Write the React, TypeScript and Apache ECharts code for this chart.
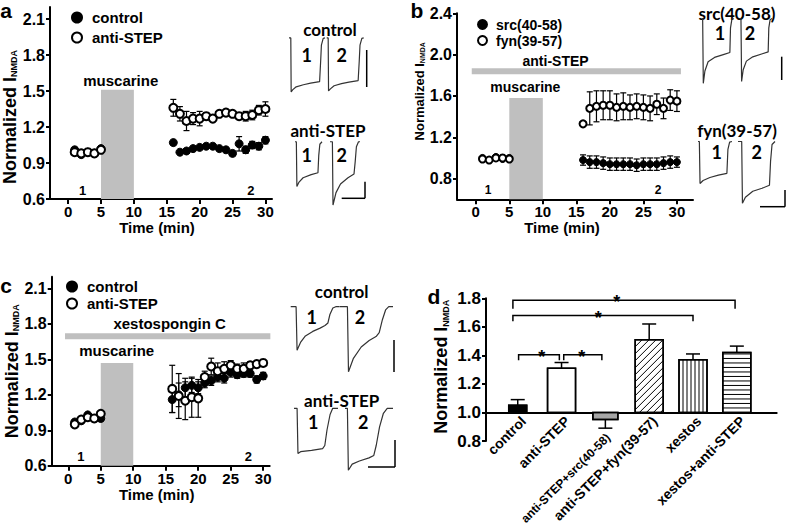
import React, { useEffect, useRef } from "react";
import * as echarts from "echarts";

const FONT = "'Liberation Sans', Arial, sans-serif";
const TFONT = "Lato, 'Open Sans', sans-serif";

// ---------- shared time axes ----------
const preTimes = [1, 2, 3, 4, 5];
const postTimes = [16, 17, 18, 19, 20, 21, 22, 23, 24, 25, 26, 27, 28, 29, 30];
const timeTicks = [0, 5, 10, 15, 20, 25, 30];

// ---------- panel a ----------
const aControlPre = [1.01, 0.97, 0.99, 0.98, 1.02];
const aControlPreErr = [0.02, 0.01, 0.01, 0.01, 0.01];
const aAntiPre = [0.99, 0.98, 0.99, 0.98, 1.01];
const aAntiPreErr = [0.01, 0.01, 0.01, 0.01, 0.01];
const aControlPost = [1.07, 0.99, 1.0, 1.02, 1.03, 1.04, 1.04, 1.02, 1.01, 0.98, 1.06, 1.01, 1.05, 1.04, 1.09];
const aControlPostErr = [0.02, 0.01, 0.01, 0.01, 0.01, 0.01, 0.01, 0.01, 0.01, 0.02, 0.06, 0.03, 0.03, 0.03, 0.03];
const aAntiPost = [1.36, 1.31, 1.25, 1.27, 1.27, 1.29, 1.27, 1.31, 1.32, 1.31, 1.29, 1.29, 1.3, 1.34, 1.35];
const aAntiPostErr = [0.07, 0.06, 0.08, 0.05, 0.06, 0.03, 0.02, 0.02, 0.02, 0.02, 0.02, 0.04, 0.04, 0.04, 0.06];
const aYTicks = [0.6, 0.9, 1.2, 1.5, 1.8, 2.1];

// ---------- panel b ----------
const bSrcPre = [1.0, 0.98, 1.01, 0.99, 1.0];
const bFynPre = [0.99, 0.98, 1.0, 1.0, 0.99];
const bPreErr = [0.01, 0.01, 0.01, 0.01, 0.01];
const bSrcPost = [0.98, 0.96, 0.96, 0.95, 0.94, 0.94, 0.94, 0.94, 0.93, 0.94, 0.94, 0.94, 0.95, 0.96, 0.96];
const bSrcPostErr = [0.05, 0.06, 0.06, 0.06, 0.06, 0.06, 0.06, 0.06, 0.06, 0.06, 0.06, 0.06, 0.06, 0.06, 0.05];
const bFynPost = [1.33, 1.48, 1.5, 1.51, 1.51, 1.49, 1.5, 1.49, 1.5, 1.49, 1.48, 1.52, 1.48, 1.56, 1.55];
const bFynPostErr = [0.02, 0.16, 0.15, 0.14, 0.14, 0.13, 0.13, 0.12, 0.12, 0.12, 0.12, 0.1, 0.1, 0.1, 0.1];
const bYTicks = [0.8, 1.2, 1.6, 2.0, 2.4];

// ---------- panel c ----------
const cControlPre = [0.97, 0.98, 1.03, 1.0, 1.0];
const cAntiPre = [0.95, 0.99, 1.01, 1.0, 1.04];
const cPreErr = [0.02, 0.02, 0.01, 0.02, 0.02];
const cControlPost = [1.16, 1.2, 1.26, 1.28, 1.26, 1.3, 1.32, 1.35, 1.34, 1.39, 1.37, 1.38, 1.38, 1.33, 1.36];
const cControlPostErr = [0.11, 0.1, 0.08, 0.06, 0.05, 0.04, 0.04, 0.04, 0.04, 0.04, 0.03, 0.03, 0.03, 0.03, 0.03];
const cAntiPost = [1.25, 1.19, 1.15, 1.18, 1.17, 1.35, 1.44, 1.4, 1.42, 1.45, 1.42, 1.42, 1.45, 1.46, 1.47];
const cAntiPostErr = [0.2, 0.19, 0.16, 0.17, 0.16, 0.05, 0.07, 0.07, 0.06, 0.04, 0.04, 0.05, 0.03, 0.02, 0.02];
const cYTicks = [0.6, 0.9, 1.2, 1.5, 1.8, 2.1];

// ---------- panel d ----------
const dCategories = ["control", "anti-STEP", "anti-STEP+src(40-58)", "anti-STEP+fyn(39-57)", "xestos", "xestos+anti-STEP"];
const dMeans = [1.05, 1.31, 0.95, 1.51, 1.37, 1.42];
const dErrs = [0.04, 0.04, 0.06, 0.11, 0.04, 0.045];
const dYTicks = [0.8, 1.0, 1.2, 1.4, 1.6, 1.8];
// brackets: [from, to, level, drop]
const dBrackets = [
  [-0.11, 4.96, 1.786, 1.726],
  [-0.11, 4.0, 1.679, 1.64],
  [0.02, 0.95, 1.405, 1.365],
  [1.05, 1.92, 1.405, 1.365],
];
const dStarX = [2.26, 1.84, 0.55, 1.46];

// ---------- annotations (data coords) ----------
const drugBarsA = [[5, 10, 1.51]];
const drugBarsB = [[5, 10, 1.58]];
const drugBarsC = [[5, 10, 1.47]];
const lineBarB = [[-0.6, 30.6, 1.84]];
const lineBarC = [[-0.5, 31.1, 1.696]];
const annotA = { x: [8, 2.2, 27.8], y: [1.59, 0.675, 0.675], t: ["muscarine", "1", "2"] };
const annotB = { x: [7.4, 11.9, 1.85, 27.2], y: [1.684, 1.935, 0.687, 0.687], t: ["muscarine", "anti-STEP", "1", "2"] };
const annotC = { x: [15.6, 7.45, 1.95, 27.7], y: [1.8, 1.572, 0.676, 0.676], t: ["xestospongin C", "muscarine", "1", "2"] };

// ---------- example traces (normalized current vs normalized time) ----------
const traceACtrl1 = [[0, 0.04], [0.05, 0.04], [0.06, -1], [0.1, -0.96], [0.2, -0.9], [0.4, -0.86], [0.6, -0.83], [0.85, -0.8], [0.88, -0.4], [0.9, -0.1], [0.95, 0.03], [1, 0.04]];
const traceACtrl2 = [[0, 0.04], [0.04, 0.04], [0.05, -0.98], [0.1, -0.94], [0.2, -0.88], [0.4, -0.84], [0.6, -0.81], [0.85, -0.78], [0.88, -0.4], [0.9, -0.1], [0.95, 0.03], [1, 0.04]];
const traceAAnti1 = [[0, 0.02], [0.05, 0.02], [0.07, -0.7], [0.15, -0.63], [0.3, -0.56], [0.6, -0.51], [0.85, -0.48], [0.88, -0.2], [0.92, -0.02], [1, 0.02]];
const traceAAnti2 = [[0, 0.02], [0.08, 0.02], [0.1, -1], [0.2, -0.8], [0.35, -0.66], [0.6, -0.56], [0.8, -0.5], [0.84, -0.3], [0.88, -0.06], [0.95, 0.02], [1, 0.02]];
const traceBSrc1 = [[0, 0.05], [0.03, 0.05], [0.05, -1], [0.1, -0.8], [0.2, -0.65], [0.4, -0.58], [0.7, -0.53], [0.88, -0.5], [0.9, -0.1], [0.94, 0.03], [1, 0.05]];
const traceBSrc2 = [[0, 0.05], [0.03, 0.05], [0.05, -0.97], [0.1, -0.78], [0.2, -0.64], [0.4, -0.57], [0.7, -0.52], [0.88, -0.49], [0.9, -0.1], [0.94, 0.03], [1, 0.05]];
const traceBFyn1 = [[0, 0.03], [0.04, 0.03], [0.06, -0.67], [0.15, -0.62], [0.35, -0.57], [0.6, -0.53], [0.85, -0.5], [0.88, -0.1], [0.93, 0.02], [1, 0.03]];
const traceBFyn2 = [[0, 0.03], [0.1, 0.03], [0.12, -1], [0.2, -0.9], [0.4, -0.8], [0.65, -0.75], [0.85, -0.7], [0.88, -0.3], [0.92, -0.02], [1, 0.03]];
const traceCCtrl1 = [[0, 0], [0.11, 0], [0.13, -0.67], [0.2, -0.55], [0.3, -0.45], [0.45, -0.38], [0.6, -0.33], [0.7, -0.29], [0.76, -0.25], [0.8, -0.12], [0.86, -0.02], [0.92, 0], [1, 0]];
const traceCCtrl2 = [[0, 0], [0.14, 0], [0.16, -1], [0.25, -0.8], [0.4, -0.62], [0.55, -0.52], [0.68, -0.46], [0.74, -0.4], [0.8, -0.2], [0.86, -0.05], [0.92, 0], [1, 0]];
const traceCAnti1 = [[0, 0], [0.07, 0], [0.09, -0.73], [0.15, -0.7], [0.4, -0.68], [0.65, -0.65], [0.7, -0.6], [0.75, -0.35], [0.82, -0.1], [0.88, 0], [1, 0]];
const traceCAnti2 = [[0, 0], [0.05, 0], [0.07, -1], [0.15, -0.9], [0.3, -0.85], [0.5, -0.8], [0.6, -0.76], [0.65, -0.6], [0.72, -0.3], [0.8, -0.08], [0.88, 0], [1, 0]];

// ---------- helpers ----------
const black = "#000";
const lblStyle = (size: number) => ({ fontSize: size, fontWeight: "bold", fontFamily: FONT, color: black });
const bold = (size: number, fam = FONT) => `bold ${size}px ${fam}`;

function timeX(gridIndex: number, min: number, max: number, nameGap: number, namePad: number[]) {
  return {
    type: "value", gridIndex, min, max,
    axisLine: { show: true, onZero: false, lineStyle: { color: black, width: 2 } },
    axisTick: { show: true, customValues: timeTicks, length: 5, lineStyle: { color: black, width: 2 } },
    axisLabel: { customValues: timeTicks, margin: 5, ...lblStyle(15) },
    splitLine: { show: false },
    name: "Time (min)", nameLocation: "middle", nameGap,
    nameTextStyle: { ...lblStyle(15), padding: namePad },
  };
}

function normY(gridIndex: number, min: number, max: number, ticks: number[], nameGap: number, namePad: number[], nameSize: number, labelSize: number) {
  return {
    type: "value", gridIndex, min, max,
    axisLine: { show: true, onZero: false, lineStyle: { color: black, width: 2 } },
    axisTick: { show: true, customValues: ticks, length: 4, lineStyle: { color: black, width: 2 } },
    axisLabel: { customValues: ticks, margin: 5, formatter: (v: number) => v.toFixed(1), ...lblStyle(labelSize) },
    splitLine: { show: false },
    name: "{m|Normalized I}{s|NMDA}", nameLocation: "middle", nameGap, nameRotate: 90,
    nameTextStyle: {
      padding: namePad,
      rich: {
        m: { fontSize: nameSize, fontWeight: "bold", fontFamily: FONT, color: black },
        s: { fontSize: Math.round(nameSize * 0.5), fontWeight: "bold", fontFamily: FONT, color: black, verticalAlign: "bottom" },
      },
    },
  };
}

function dots(name: string, grid: number, xs: number[], ys: number[], filled: boolean, size: number) {
  return {
    type: "scatter", name, xAxisIndex: grid, yAxisIndex: grid, symbol: "circle", symbolSize: size, z: 4, silent: true,
    data: xs.map((x, i) => [x, ys[i]]),
    itemStyle: filled ? { color: black, borderColor: black, borderWidth: 1, opacity: 1 } : { color: "#fff", borderColor: black, borderWidth: 2, opacity: 1 },
  };
}

function errs(grid: number, xs: number[], ys: number[], es: number[], cap: number) {
  return {
    type: "custom", xAxisIndex: grid, yAxisIndex: grid, z: 3, silent: true,
    data: xs.map((x, i) => [x, ys[i] - es[i], ys[i] + es[i]]),
    encode: { x: 0, y: [1, 2] },
    renderItem: (p: any, api: any) => {
      const lo = api.coord([api.value(0), api.value(1)]);
      const hi = api.coord([api.value(0), api.value(2)]);
      const st = { stroke: black, lineWidth: 1.2 };
      return {
        type: "group",
        children: [
          { type: "line", shape: { x1: lo[0], y1: lo[1], x2: hi[0], y2: hi[1] }, style: st },
          { type: "line", shape: { x1: lo[0] - cap, y1: lo[1], x2: lo[0] + cap, y2: lo[1] }, style: st },
          { type: "line", shape: { x1: hi[0] - cap, y1: hi[1], x2: hi[0] + cap, y2: hi[1] }, style: st },
        ],
      };
    },
  };
}

function blocks(grid: number, bars: number[][], base: number) {
  return {
    type: "custom", xAxisIndex: grid, yAxisIndex: grid, z: 1, silent: true,
    data: bars,
    renderItem: (p: any, api: any) => {
      const a = api.coord([api.value(0), base]);
      const b = api.coord([api.value(1), api.value(2)]);
      return { type: "rect", shape: { x: a[0], y: b[1], width: b[0] - a[0], height: a[1] - b[1] }, style: { fill: "#bfbfbf" } };
    },
  };
}

function hbar(grid: number, bars: number[][], thick: number) {
  return {
    type: "custom", xAxisIndex: grid, yAxisIndex: grid, z: 1, silent: true,
    data: bars,
    renderItem: (p: any, api: any) => {
      const a = api.coord([api.value(0), api.value(2)]);
      const b = api.coord([api.value(1), api.value(2)]);
      return { type: "rect", shape: { x: a[0], y: a[1] - thick / 2, width: b[0] - a[0], height: thick }, style: { fill: "#bfbfbf" } };
    },
  };
}

function texts(grid: number, an: { x: number[]; y: number[]; t: string[] }, sizes: number[]) {
  return {
    type: "custom", xAxisIndex: grid, yAxisIndex: grid, z: 5, silent: true,
    data: an.x.map((x, i) => [x, an.y[i]]),
    renderItem: (p: any, api: any) => {
      const c = api.coord([api.value(0), api.value(1)]);
      return {
        type: "text", x: c[0], y: c[1],
        style: { text: an.t[p.dataIndex], fill: black, font: bold(sizes[p.dataIndex]), align: "center", verticalAlign: "middle" },
      };
    },
  };
}

function hatchLines(kind: string, x0: number, y0: number, x1: number, y1: number) {
  const out: any[] = [];
  const st = { stroke: black, lineWidth: 1 };
  if (kind === "diag") {
    const s = 7;
    for (let c = x0 + y0 + s; c < x1 + y1; c += s) {
      const sx = Math.max(x0, c - y1);
      const ex = Math.min(x1, c - y0);
      if (ex > sx) out.push({ type: "line", shape: { x1: sx, y1: c - sx, x2: ex, y2: c - ex }, style: st });
    }
  } else if (kind === "vert") {
    for (let x = x0 + 4; x < x1 - 1; x += 4) out.push({ type: "line", shape: { x1: x, y1: y0, x2: x, y2: y1 }, style: st });
  } else if (kind === "horiz") {
    for (let y = y1 - 4.5; y > y0 + 1; y -= 4.5) out.push({ type: "line", shape: { x1: x0, y1: y, x2: x1, y2: y }, style: st });
  }
  return out;
}

const dBarPx = [18, 28, 25, 28, 28, 28];
const dFill = ["#000", "#fff", "#a6a6a6", "#fff", "#fff", "#fff"];
const dHatch = ["", "", "", "diag", "vert", "horiz"];
const dLabelShift = 0.13;

export default function App() {
  const ref = useRef<HTMLDivElement>(null);
  useEffect(() => {
    const chart = echarts.init(ref.current!, null, { renderer: "svg" });
    const allT = preTimes.concat(postTimes);

    const traceRects = [
      [289, 40, 36, 52], [326.7, 40, 37, 52],
      [295, 143, 27, 62], [330, 143, 30, 62],
      [701.7, 21.7, 32, 61.6], [740, 21.7, 32, 61.6],
      [698, 143.3, 34, 60], [738, 143.3, 37, 60],
      [290.7, 306.7, 49, 65], [340, 306.7, 53, 65],
      [294, 408.3, 44, 62], [345, 408.3, 48, 62],
    ];
    const traces = [traceACtrl1, traceACtrl2, traceAAnti1, traceAAnti2, traceBSrc1, traceBSrc2, traceBFyn1, traceBFyn2, traceCCtrl1, traceCCtrl2, traceCAnti1, traceCAnti2];

    const gb = { outerBoundsMode: "none", containLabel: false };
    const grids: any[] = [
      { ...gb, left: 50, top: 7, width: 222, height: 192 },
      { ...gb, left: 457, top: 13.3, width: 236, height: 186 },
      { ...gb, left: 51.7, top: 276.7, width: 218, height: 189 },
      { ...gb, left: 486, top: 298.3, width: 290.7, height: 142.7 },
      ...traceRects.map((r) => ({ ...gb, left: r[0], top: r[1], width: r[2], height: r[3] })),
    ];

    const xAxes: any[] = [
      timeX(0, -2.75, 31, 21, [0, 8, 0, 0]),
      timeX(1, -2.8, 32.4, 19, [0, 26, 0, 0]),
      timeX(2, -2.55, 31, 21, [0, 8, 0, 0]),
      {
        type: "value", gridIndex: 3, min: -0.724, max: 5.91, offset: -28.3,
        axisLine: { show: true, onZero: false, lineStyle: { color: black, width: 2 } },
        axisTick: { show: false },
        axisLabel: {
          customValues: dCategories.map((_, i) => i + dLabelShift),
          formatter: (v: number) => {
            const i = Math.round(v);
            return i === 2 ? `{dn|${dCategories[i]}}` : `{n|${dCategories[i]}}`;
          },
          rotate: 45, margin: 6, ...lblStyle(14),
          rich: {
            n: { ...lblStyle(14), padding: [0, 0, 0, 0] },
            dn: { ...lblStyle(12), padding: [20, 14, 0, 0] },
          },
        },
        splitLine: { show: false },
      },
      ...traceRects.map((_, i) => ({ type: "value", gridIndex: 4 + i, min: 0, max: 1, show: false })),
    ];
    const yAxes: any[] = [
      normY(0, 0.6, 2.2, aYTicks, 25, [0, 28, 0, 0], 18, 16),
      normY(1, 0.6, 2.4, bYTicks, 28, [0, 0, 0, 30], 13, 16),
      normY(2, 0.6, 2.2, cYTicks, 27, [0, 0, 0, 0], 18, 16),
      normY(3, 0.8, 1.8, dYTicks, 36, [0, 0, 0, 6], 18, 17),
      ...traceRects.map((_, i) => ({ type: "value", gridIndex: 4 + i, min: -1, max: 0, show: false })),
    ];

    const series: any[] = [
      // panel a
      blocks(0, drugBarsA, 0.6),
      errs(0, allT, aControlPre.concat(aControlPost), aControlPreErr.concat(aControlPostErr), 3),
      errs(0, allT, aAntiPre.concat(aAntiPost), aAntiPreErr.concat(aAntiPostErr), 3),
      dots("control", 0, allT, aControlPre.concat(aControlPost), true, 8),
      dots("anti-STEP", 0, allT, aAntiPre.concat(aAntiPost), false, 8),
      texts(0, annotA, [15, 13, 13]),
      // panel b
      blocks(1, drugBarsB, 0.6),
      hbar(1, lineBarB, 6),
      errs(1, allT, bSrcPre.concat(bSrcPost), bPreErr.concat(bSrcPostErr), 3),
      errs(1, allT, bFynPre.concat(bFynPost), bPreErr.concat(bFynPostErr), 3),
      dots("src(40-58)", 1, allT, bSrcPre.concat(bSrcPost), true, 7),
      dots("fyn(39-57)", 1, allT, bFynPre.concat(bFynPost), false, 7),
      texts(1, annotB, [14, 14, 12, 12]),
      // panel c
      blocks(2, drugBarsC, 0.6),
      hbar(2, lineBarC, 6),
      errs(2, allT, cControlPre.concat(cControlPost), cPreErr.concat(cControlPostErr), 3),
      errs(2, allT, cAntiPre.concat(cAntiPost), cPreErr.concat(cAntiPostErr), 3),
      dots("control", 2, allT, cControlPre.concat(cControlPost), true, 8),
      dots("anti-STEP", 2, allT, cAntiPre.concat(cAntiPost), false, 8),
      texts(2, annotC, [15, 15, 13, 13]),
      // panel d bars
      {
        type: "custom", xAxisIndex: 3, yAxisIndex: 3, z: 3, silent: true,
        data: dMeans.map((m, i) => [i, m, dErrs[i]]),
        renderItem: (p: any, api: any) => {
          const i = p.dataIndex;
          const x = api.value(0), m = api.value(1), e = api.value(2);
          const base = api.coord([x, 1.0]);
          const top = api.coord([x, m]);
          const w = dBarPx[i];
          const x0 = base[0] - w / 2, x1 = base[0] + w / 2;
          const y0 = Math.min(base[1], top[1]), y1 = Math.max(base[1], top[1]);
          const tip = api.coord([x, m >= 1 ? m + e : m - e]);
          const cap = 7;
          const st = { stroke: black, lineWidth: 1.5 };
          return {
            type: "group",
            children: [
              { type: "line", shape: { x1: base[0], y1: top[1], x2: base[0], y2: tip[1] }, style: st },
              { type: "line", shape: { x1: base[0] - cap, y1: tip[1], x2: base[0] + cap, y2: tip[1] }, style: st },
              { type: "rect", shape: { x: x0, y: y0, width: w, height: y1 - y0 }, style: { fill: dFill[i], stroke: black, lineWidth: 1.5 } },
              ...hatchLines(dHatch[i], x0, y0, x1, y1),
              { type: "rect", shape: { x: x0, y: y0, width: w, height: y1 - y0 }, style: { fill: "none", stroke: black, lineWidth: 1.5 } },
            ],
          };
        },
      },
      // panel d significance brackets
      {
        type: "custom", xAxisIndex: 3, yAxisIndex: 3, z: 3, silent: true,
        data: dBrackets.map((b, i) => [b[0], b[1], b[2], b[3], dStarX[i]]),
        renderItem: (p: any, api: any) => {
          const l = api.coord([api.value(0), api.value(2)]);
          const r = api.coord([api.value(1), api.value(2)]);
          const d = api.coord([api.value(0), api.value(3)]);
          const s = api.coord([api.value(4), api.value(2)]);
          return {
            type: "group",
            children: [
              { type: "polyline", shape: { points: [[l[0], d[1]], [l[0], l[1]], [r[0], r[1]], [r[0], d[1]]] }, style: { stroke: black, lineWidth: 1.5, fill: "none" } },
              { type: "text", x: s[0], y: l[1] + 2, style: { text: "*", fill: black, font: bold(18), align: "center", verticalAlign: "middle" } },
            ],
          };
        },
      },
      // traces
      ...traces.map((t, i) => ({
        type: "line", xAxisIndex: 4 + i, yAxisIndex: 4 + i, data: t, showSymbol: false, symbol: "none", clip: false, silent: true,
        lineStyle: { color: "#333", width: 1.2 }, z: 2,
      })),
    ];

    const tTitle = (x: number, y: number, text: string, size = 17) => ({
      type: "text", x, y, style: { text, fill: black, font: bold(size, TFONT), align: "center", verticalAlign: "middle" },
    });
    const pLabel = (x: number, y: number, text: string) => ({
      type: "text", x, y, style: { text, fill: black, font: bold(21), align: "center", verticalAlign: "middle" },
    });
    const ln = (x1: number, y1: number, x2: number, y2: number) => ({
      type: "line", shape: { x1, y1, x2, y2 }, style: { stroke: black, lineWidth: 1.5 },
    });

    const graphic: any[] = [
      pLabel(6, 10, "a"), pLabel(417, 10, "b"), pLabel(6, 285, "c"), pLabel(434, 296, "d"),
      tTitle(330, 29, "control"), tTitle(306.7, 55, "1", 18), tTitle(341.7, 55, "2", 18),
      tTitle(328, 130, "anti-STEP"), tTitle(306.7, 155, "1", 18), tTitle(341.7, 155, "2", 18),
      tTitle(737, 13, "src(40-58)"), tTitle(720, 33, "1", 18), tTitle(750, 33, "2", 18),
      tTitle(737, 130, "fyn(39-57)"), tTitle(716.7, 151.7, "1", 18), tTitle(756.7, 151.7, "2", 18),
      tTitle(341.7, 291.7, "control"), tTitle(311.7, 316.7, "1", 18), tTitle(360, 316.7, "2", 18),
      tTitle(341.7, 400, "anti-STEP"), tTitle(313.3, 421.7, "1", 18), tTitle(363.3, 421.7, "2", 18),
      ln(366.7, 50, 366.7, 87),
      ln(365, 181.7, 365, 198.3), ln(341.7, 198.3, 365, 198.3),
      ln(781.7, 56.7, 781.7, 80),
      ln(785, 190, 785, 206.7), ln(760, 206.7, 785, 206.7),
      ln(394, 340, 394, 372),
      ln(395, 440, 395, 467), ln(368, 467, 395, 467),
    ];

    const legendBase = { orient: "vertical", itemWidth: 10, itemHeight: 10, selectedMode: false, icon: "circle" };
    const legends: any[] = [
      { ...legendBase, left: 66, top: 5, itemGap: 5, data: [{ name: "control", itemStyle: { color: black } }, { name: "anti-STEP", itemStyle: { color: "#fff", borderColor: black, borderWidth: 2 } }], textStyle: { ...lblStyle(15), padding: [0, 0, 0, 5] } },
      { ...legendBase, left: 472, top: 12, itemGap: 1, itemWidth: 9, itemHeight: 9, data: [{ name: "src(40-58)", itemStyle: { color: black } }, { name: "fyn(39-57)", itemStyle: { color: "#fff", borderColor: black, borderWidth: 2 } }], textStyle: { ...lblStyle(14), lineHeight: 15, padding: [0, 0, 0, 4] } },
      { ...legendBase, left: 61, top: 274, itemGap: 2, data: [{ name: "control", itemStyle: { color: black } }, { name: "anti-STEP", itemStyle: { color: "#fff", borderColor: black, borderWidth: 2 } }], textStyle: { ...lblStyle(15), padding: [0, 0, 0, 5] } },
    ];

    chart.setOption({
      animation: false,
      backgroundColor: "#fff",
      grid: grids,
      xAxis: xAxes,
      yAxis: yAxes,
      legend: legends,
      series,
      graphic,
    });
    return () => chart.dispose();
  }, []);
  return <div ref={ref} style={{ position: "fixed", left: 0, top: 0, width: 787, height: 528, background: "#fff" }} />;
}
